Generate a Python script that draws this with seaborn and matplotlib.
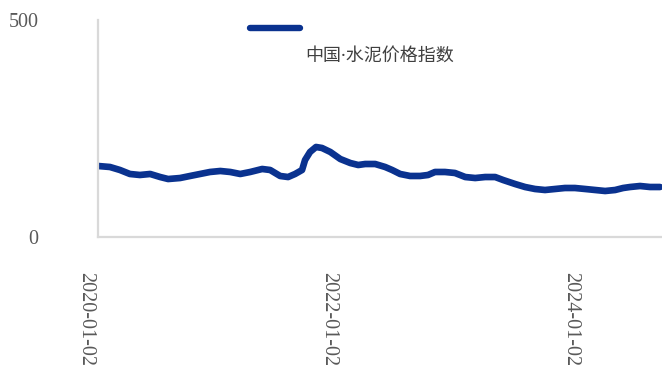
import matplotlib
matplotlib.use("Agg")
import matplotlib.pyplot as plt
import matplotlib.dates as mdates
from matplotlib.lines import Line2D
from matplotlib.transforms import ScaledTranslation
import pandas as pd
import seaborn as sns

# China cement price index
dates = [
    "2020-01-02", "2020-02-07", "2020-03-08", "2020-04-07", "2020-05-07",
    "2020-06-07", "2020-07-07", "2020-07-31", "2020-09-05", "2020-10-05",
    "2020-11-04", "2020-12-04", "2021-01-04", "2021-02-03", "2021-03-05",
    "2021-04-04", "2021-05-10", "2021-06-03", "2021-07-03", "2021-07-27",
    "2021-08-17", "2021-09-07", "2021-09-16", "2021-10-01", "2021-10-19",
    "2021-11-06", "2021-12-01", "2021-12-31", "2022-01-30", "2022-02-23",
    "2022-03-16", "2022-04-15", "2022-05-15", "2022-06-05", "2022-06-29",
    "2022-07-29", "2022-08-28", "2022-09-21", "2022-10-12", "2022-11-11",
    "2022-12-11", "2023-01-11", "2023-02-10", "2023-03-12", "2023-04-11",
    "2023-05-05", "2023-06-10", "2023-07-10", "2023-08-09", "2023-09-08",
    "2023-10-08", "2023-11-07", "2023-12-07", "2024-01-07", "2024-02-06",
    "2024-03-07", "2024-04-06", "2024-04-30", "2024-05-21", "2024-06-20",
    "2024-07-20", "2024-08-19",
]
values = [
    163.6, 161.3, 154.4, 145.2, 142.9, 145.2, 138.2, 133.6, 135.9, 140.6,
    145.2, 149.8, 152.1, 149.8, 145.2, 149.8, 156.7, 154.4, 140.6, 138.2,
    145.2, 154.4, 177.4, 195.9, 207.4, 205.1, 195.9, 179.7, 170.5, 165.9,
    168.2, 168.2, 161.3, 154.4, 145.2, 140.6, 140.6, 142.9, 149.8, 149.8,
    147.5, 138.2, 135.9, 138.2, 138.2, 131.3, 122.1, 115.2, 110.6, 108.3,
    110.6, 112.9, 112.9, 110.6, 108.3, 106.0, 108.3, 112.9, 115.2, 117.5,
    115.2, 115.2,
]
series_name = "中国·水泥价格指数"
x_ticks = ["2020-01-02", "2022-01-02", "2024-01-02"]
y_ticks = [0, 500]

df = pd.DataFrame({"date": pd.to_datetime(dates), "value": values})

sns.set_style("white")
plt.rcParams["font.family"] = ["Liberation Serif", "Noto Sans CJK SC", "DejaVu Sans"]

line_color = "#0a328f"
W, H = 662, 367
fig = plt.figure(figsize=(W / 100, H / 100), dpi=100)
ax = fig.add_axes([98 / W, 1 - 237 / H, 1 - 98 / W, (237 - 20) / H])

sns.lineplot(data=df, x="date", y="value", ax=ax, color=line_color,
             linewidth=4.8, solid_capstyle="round", solid_joinstyle="round",
             legend=False)

ax.set_xlim(pd.Timestamp("2020-01-02"), pd.Timestamp("2024-08-25"))
ax.set_ylim(0, 500)
ax.set_xlabel("")
ax.set_ylabel("")

ax.set_xticks(pd.to_datetime(x_ticks))
ax.xaxis.set_major_formatter(mdates.DateFormatter("%Y-%m-%d"))
ax.set_yticks(y_ticks)

ax.tick_params(axis="both", length=0, labelsize=14.5, labelcolor="#595959")
ax.tick_params(axis="x", pad=25)
ax.tick_params(axis="y", pad=43)

shift = ScaledTranslation(-9 / 72, 0, fig.dpi_scale_trans)
for lab in ax.get_xticklabels():
    lab.set_rotation(-90)
    lab.set_ha("center")
    lab.set_va("top")
    lab.set_transform(lab.get_transform() + shift)

for side in ["top", "right"]:
    ax.spines[side].set_visible(False)
for side in ["left", "bottom"]:
    ax.spines[side].set_color("#d9d9d9")
    ax.spines[side].set_linewidth(1.6)

# legend key and label
fig.add_artist(Line2D([250 / W, 300 / W], [1 - 28 / H, 1 - 28 / H],
                      transform=fig.transFigure, color=line_color,
                      linewidth=4.6, solid_capstyle="round"))
fig.text(305 / W, 1 - 56 / H, series_name, ha="left", va="center",
         fontsize=13, color="#404040",
         family=["Noto Sans", "Noto Sans CJK SC", "DejaVu Sans"])

fig.savefig("out.png", dpi=100)
